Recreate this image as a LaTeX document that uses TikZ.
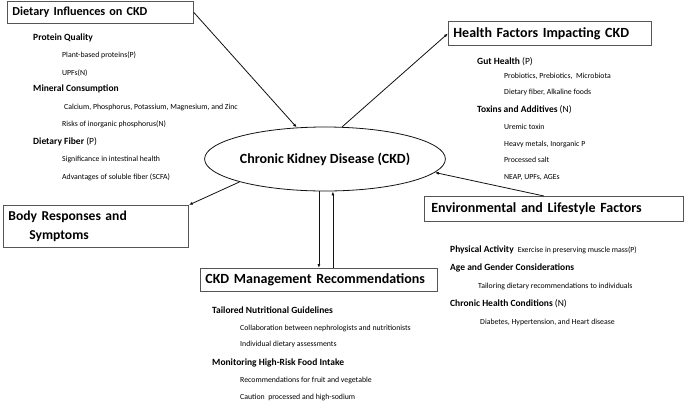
\documentclass[tikz,border=0pt]{standalone}
\usepackage{fontspec}
\setmainfont{Carlito}
\usepackage{tikz}
\usetikzlibrary{positioning,arrows.meta,shapes.geometric}
\definecolor{ink}{HTML}{111111}
\definecolor{frame}{HTML}{555555}

\begin{document}
\begin{tikzpicture}[x=1pt,y=-1pt,
  titlebox/.style={draw=frame,line width=0.8pt,anchor=north west,align=left,
    inner xsep=5pt,inner ysep=0pt,font=\fontsize{14}{19}\selectfont\bfseries},
  head/.style={anchor=west,inner sep=0pt,font=\fontsize{9.5}{11}\selectfont\bfseries},
  item/.style={anchor=west,inner sep=0pt,font=\fontsize{7.8}{9}\selectfont},
  link/.style={ink,line width=0.8pt,-{Latex[length=4pt,width=3pt]}}]
  \useasboundingbox (0,0) rectangle (685,400);

  % centre
  \node[draw=ink,line width=0.8pt,ellipse,minimum width=234pt,minimum height=64pt,
    inner sep=0pt,font=\fontsize{14}{17}\selectfont\bfseries] (ckd) at (325,159)
    {Chronic Kidney Disease (CKD)};

  % boxes round it
  \node[titlebox,text width=176pt,minimum height=22pt,font=\fontsize{12.2}{15}\selectfont\bfseries] (diet) at (7,1)
    {Dietary Influences on CKD};
  \node[titlebox,text width=193pt,minimum height=24pt] (health) at (448,21) {Health Factors Impacting CKD};
  \node[titlebox,text width=175pt,minimum height=42pt,font=\fontsize{13.6}{19}\selectfont\bfseries] (body) at (3,205)
    {Body Responses and\\\hspace*{21pt}Symptoms};
  \node[titlebox,inner xsep=7pt,text width=245pt,minimum height=25pt] (env) at (424,196)
    {Environmental and Lifestyle Factors};
  \node[titlebox,text width=227pt,minimum height=23pt] (mgmt) at (200,268)
    {CKD Management Recommendations};

  % dietary influences
  \foreach \y/\lab in {38/{Protein Quality}, 89/{Mineral Consumption}, 142/{Dietary Fiber \mdseries(P)}}
    \node[head] (dh\y) at (33,\y) {\lab};
  \foreach \x/\y/\lab in {62/55/{Plant-based proteins(P)}, 62/73/{UPFs(N)},
      64/107/{Calcium, Phosphorus, Potassium, Magnesium, and Zinc},
      62/124/{Risks of inorganic phosphorus(N)}, 62/159/{Significance in intestinal health},
      62/177/{Advantages of soluble fiber (SCFA)}}
    \node[item] (di\y) at (\x,\y) {\lab};

  % health factors
  \foreach \y/\lab in {62/{Gut Health \mdseries(P)}, 110/{Toxins and Additives \mdseries(N)}}
    \node[head] (hh\y) at (477,\y) {\lab};
  \foreach \y/\lab in {76/{Probiotics, Prebiotics,\ \ Microbiota}, 92/{Dietary fiber, Alkaline foods},
      127/{Uremic toxin}, 144/{Heavy metals, Inorganic P}, 160/{Processed salt}, 177/{NEAP, UPFs, AGEs}}
    \node[item] (hi\y) at (504,\y) {\lab};

  % environment and lifestyle
  \foreach \y/\lab in {250/{Physical Activity\hspace{4pt}\mdseries\fontsize{7.8}{9}\selectfont Exercise in preserving muscle mass(P)},
      268/{Age and Gender Considerations}, 304/{Chronic Health Conditions \mdseries(N)}}
    \node[head] (eh\y) at (450,\y) {\lab};
  \foreach \x/\y/\lab in {478/286/{Tailoring dietary recommendations to individuals},
      480/322/{Diabetes, Hypertension, and Heart disease}}
    \node[item] (ei\y) at (\x,\y) {\lab};

  % management
  \foreach \y/\lab in {310/{Tailored Nutritional Guidelines}, 363/{Monitoring High-Risk Food Intake}}
    \node[head] (mh\y) at (212,\y) {\lab};
  \foreach \y/\lab in {328/{Collaboration between nephrologists and nutritionists}, 344/{Individual dietary assessments},
      380/{Recommendations for fruit and vegetable}, 397/{Caution\ \ processed and high-sodium}}
    \node[item] (mi\y) at (240,\y) {\lab};

  % connectors
  \draw[link] (diet.east) -- (ckd);
  \draw[link] (ckd.62) -- (health.west);
  \draw[link] (ckd.195) -- (body.north east);
  \draw[link] ([xshift=-10pt]env.north) -- (ckd.-7);
  \draw[link] (ckd.south -| mgmt.north) -- (mgmt.north);
  \draw[link] ([xshift=14pt]mgmt.north) -- ([xshift=14pt]mgmt.north |- ckd.south);
\end{tikzpicture}
\end{document}
